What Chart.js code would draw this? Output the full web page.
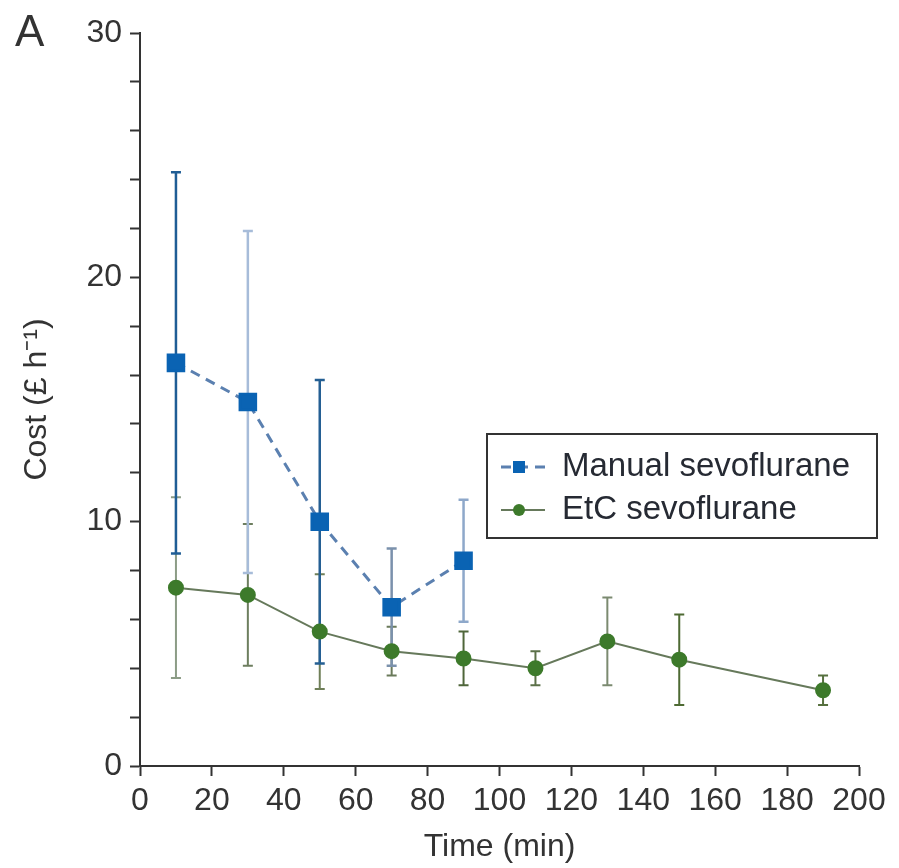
<!DOCTYPE html>
<html>
<head>
<meta charset="utf-8">
<script src="https://cdn.jsdelivr.net/npm/chart.js@4.4.0/dist/chart.umd.min.js"></script>
<style>
    html, body { margin: 0; padding: 0; background: #fff; }
    #wrap { width: 899px; height: 868px; }
</style>
</head>
<body>
<div id="wrap"><canvas id="costChart" width="899" height="868"></canvas></div>
<script>
// Manual sevoflurane (mean +/- error)
const manualTimes = [10, 30, 50, 70, 90];
const manualCost = [16.5, 14.9, 10.0, 6.5, 8.4];
const manualErr = [7.8, 7.0, 5.8, 2.4, 2.5];

// EtC sevoflurane
const etcTimes = [10, 30, 50, 70, 90, 110, 130, 150, 190];
const etcCost = [7.3, 7.0, 5.5, 4.7, 4.4, 4.0, 5.1, 4.35, 3.1];
const etcErr = [3.7, 2.9, 2.35, 1.0, 1.1, 0.7, 1.8, 1.85, 0.6];

// axis labels
const yLabelTicks = [0, 10, 20, 30];
const panelLabel = "A";

// error bar colours per point (the scan has uneven tints)
const manualErrColors = ["#1f5d95", "#a7bcd9", "#245f93", "#7b91ac", "#8ea8ca"];
const etcErrColors = ["#8c9c86", "#6d7e5f", "#6f7f58", "#6a7a5a", "#4f663a", "#5b7048", "#7b8a70", "#4e6a33", "#56703e"];

const FONT = "'Liberation Sans', Arial, Helvetica, sans-serif";
Chart.defaults.font.family = FONT;
Chart.defaults.color = "#333";

const toPoints = (xs, ys) => xs.map((x, i) => ({ x: x, y: ys[i] }));

// draws vertical error bars with caps, under the lines and markers
const errorBars = {
    id: "errorBars",
    beforeDatasetsDraw(chart) {
        const { ctx, scales: { x, y } } = chart;
        chart.data.datasets.forEach(ds => {
            if (!ds.errors) return;
            ds.data.forEach((p, i) => {
                const px = x.getPixelForValue(p.x);
                const top = y.getPixelForValue(p.y + ds.errors[i]);
                const bot = y.getPixelForValue(p.y - ds.errors[i]);
                ctx.save();
                ctx.strokeStyle = ds.errorColors[i];
                ctx.lineWidth = ds.errorWidth;
                ctx.beginPath();
                ctx.moveTo(px, top);
                ctx.lineTo(px, bot);
                ctx.moveTo(px - 5, top);
                ctx.lineTo(px + 5, top);
                ctx.moveTo(px - 5, bot);
                ctx.lineTo(px + 5, bot);
                ctx.stroke();
                ctx.restore();
            });
        });
    }
};

// boxed legend inside the plot plus the panel letter
const boxLegend = {
    id: "boxLegend",
    afterDraw(chart) {
        const { ctx, chartArea } = chart;
        const bx = chartArea.left + 347;
        const by = chartArea.top + 401;
        const bw = 390, bh = 104;

        ctx.save();
        ctx.strokeStyle = "#333";
        ctx.lineWidth = 2;
        ctx.strokeRect(bx, by, bw, bh);

        const entries = [chart.data.datasets[1], chart.data.datasets[0]];
        entries.forEach((ds, i) => {
            const ly = by + 33 + i * 43;
            const mx = bx + 32;
            ctx.strokeStyle = ds.borderColor;
            ctx.lineWidth = ds.borderWidth;
            ctx.setLineDash(ds.borderDash || []);
            ctx.beginPath();
            ctx.moveTo(bx + 14, ly);
            ctx.lineTo(bx + 58, ly);
            ctx.stroke();
            ctx.setLineDash([]);
            ctx.fillStyle = ds.pointBackgroundColor;
            if (ds.pointStyle === "rect") {
                ctx.fillRect(mx - 6, ly - 6, 12, 12);
            } else {
                ctx.beginPath();
                ctx.arc(mx, ly, 6, 0, Math.PI * 2);
                ctx.fill();
            }
            ctx.fillStyle = "#262a33";
            ctx.font = "33px " + FONT;
            ctx.textBaseline = "middle";
            ctx.textAlign = "left";
            ctx.fillText(ds.label, bx + 75, ly);
        });

        ctx.fillStyle = "#333";
        ctx.font = "44px " + FONT;
        ctx.textBaseline = "alphabetic";
        ctx.fillText(panelLabel, 15, 46);
        ctx.restore();
    }
};

const ctx = document.getElementById("costChart").getContext("2d");

new Chart(ctx, {
    type: "line",
    data: {
        datasets: [
            {
                label: "EtC sevoflurane",
                data: toPoints(etcTimes, etcCost),
                errors: etcErr,
                errorColors: etcErrColors,
                errorWidth: 2,
                borderColor: "#66795b",
                borderWidth: 2,
                pointStyle: "circle",
                pointRadius: 7,
                pointBackgroundColor: "#3d7a2b",
                pointBorderColor: "#3d7a2b",
                tension: 0,
                order: 0
            },
            {
                label: "Manual sevoflurane",
                data: toPoints(manualTimes, manualCost),
                errors: manualErr,
                errorColors: manualErrColors,
                errorWidth: 2.5,
                borderColor: "#5b80b0",
                borderWidth: 3,
                borderDash: [10, 7],
                pointStyle: "rect",
                pointRadius: 11,
                pointBackgroundColor: "#0a63b3",
                pointBorderColor: "#0a63b3",
                tension: 0,
                order: 1
            }
        ]
    },
    options: {
        responsive: false,
        animation: false,
        layout: { padding: { left: 0, top: 33, right: 40, bottom: 0 } },
        plugins: {
            legend: { display: false },
            tooltip: { enabled: false }
        },
        scales: {
            x: {
                type: "linear",
                min: 0,
                max: 200,
                afterFit: s => { s.height = 102; },
                ticks: { stepSize: 20, padding: 6, color: "#333", font: { size: 32 }, maxRotation: 0 },
                grid: { drawOnChartArea: false, tickLength: 10, tickColor: "#333", tickWidth: 2 },
                border: { color: "#333", width: 2 },
                title: { display: true, text: "Time (min)", color: "#333", font: { size: 32 }, padding: { top: 0, bottom: 2 } }
            },
            y: {
                min: 0,
                max: 30,
                afterFit: s => { s.width = 140; },
                ticks: {
                    stepSize: 2,
                    padding: 8,
                    color: "#333",
                    font: { size: 32 },
                    callback: v => yLabelTicks.includes(v) ? v : ""
                },
                grid: { drawOnChartArea: false, tickLength: 10, tickColor: "#333", tickWidth: 2 },
                border: { color: "#333", width: 2 },
                title: { display: true, text: "Cost (£ h⁻¹)", color: "#333", font: { size: 32 }, padding: { top: 18, bottom: 0 } }
            }
        }
    },
    plugins: [errorBars, boxLegend]
});
</script>
</body>
</html>
